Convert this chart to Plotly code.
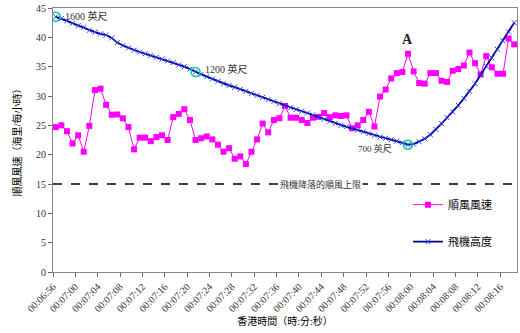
import plotly.graph_objects as go

# ---- data ----
start_sec = 6 * 60 + 56  # 00:06:56
n_points = 83
times = []
for i in range(n_points):
    s = start_sec + i
    times.append("00:%02d:%02d" % (s // 60, s % 60))

tailwind = [24.7, 25.0, 24.0, 21.9, 23.3, 20.5, 24.9, 31.0, 31.25, 28.5,
            26.8, 26.85, 26.2, 24.7, 20.9, 22.9, 22.9, 22.3, 23.0, 23.3,
            22.5, 26.4, 26.95, 27.75, 25.9, 22.5, 22.8, 23.1, 22.6, 21.7,
            20.5, 21.1, 19.3, 19.7, 18.4, 20.5, 22.6, 25.3, 23.8, 25.9,
            26.2, 28.3, 26.3, 26.3, 25.9, 25.4, 26.3, 26.45, 27.1, 26.4,
            26.7, 26.6, 26.7, 24.5, 25.0, 25.9, 27.3, 24.8, 29.9, 31.1,
            33.0, 33.9, 34.1, 37.2, 34.2, 32.2, 32.1, 33.9, 33.9, 32.6,
            32.4, 34.3, 34.6, 35.2, 37.4, 35.6, 33.7, 36.8, 34.9, 33.8,
            33.8, 39.8, 38.8]

altitude = [43.5, 43.2, 42.8, 42.4, 42.0, 41.7, 41.2, 40.9, 40.6, 40.4,
            39.9, 39.1, 38.6, 38.2, 37.8, 37.5, 37.2, 36.9, 36.6, 36.3,
            36.0, 35.7, 35.3, 35.0, 34.6, 34.1, 33.7, 33.3, 32.9, 32.5,
            32.1, 31.8, 31.5, 31.15, 30.8, 30.45, 30.1, 29.75, 29.4, 29.05,
            28.7, 28.35, 28.0, 27.7, 27.4, 27.1, 26.75, 26.4, 26.05, 25.7,
            25.35, 25.0, 24.75, 24.5, 24.2, 23.9, 23.6, 23.3, 23.0, 22.8,
            22.55, 22.3, 22.0, 21.7, 21.8, 22.2, 22.7, 23.4, 24.3, 25.3,
            26.3, 27.3, 28.4, 29.6, 30.8, 32.1, 33.6, 35.1, 36.5, 37.95,
            39.4, 40.9, 42.5]

marked_idx = [0, 25, 63]
marked_text = ["1600 英尺", "1200 英尺", "700 英尺"]
limit_value = 15
limit_text = "飛機降落的順風上限"
peak_idx = 63
peak_text = "A"

tick_step = 4
tick_idx = list(range(0, n_points, tick_step))
tick_labels = [times[i] for i in tick_idx]

series_wind = "順風風速"
series_alt = "飛機高度"
y_title = "順風風速（海里/每小時）"
x_title = "香港時間（時:分:秒）"

FONT = "Liberation Serif, Noto Sans CJK TC, serif"
xs = list(range(n_points))

fig = go.Figure()
fig.add_trace(go.Scatter(
    x=xs, y=tailwind, name=series_wind, mode="lines+markers",
    line=dict(color="#FF00FF", width=1),
    marker=dict(symbol="square", size=6, color="#FF00FF"),
    legendgroup="a"))
fig.add_trace(go.Scatter(
    x=xs, y=altitude, name=series_alt, mode="lines+markers",
    line=dict(color="#000080", width=1.8),
    marker=dict(symbol="x-thin", size=5, line=dict(color="#2040FF", width=1)),
    legendgroup="b"))
fig.add_trace(go.Scatter(
    x=marked_idx, y=[altitude[i] for i in marked_idx], mode="markers",
    marker=dict(symbol="circle-open", size=9, line=dict(color="#3A6AF0", width=1.5)),
    showlegend=False, hoverinfo="skip"))

fig.add_shape(type="line", xref="x", yref="y", x0=-0.5, x1=n_points - 0.5,
              y0=limit_value, y1=limit_value,
              line=dict(color="black", width=1.5, dash="dash"))

fig.add_annotation(x=47.3, y=limit_value, xref="x", yref="y", text=limit_text,
                   showarrow=False, bgcolor="white",
                   font=dict(family=FONT, size=9, color="#333333"))

# point labels
fig.add_annotation(x=marked_idx[0] + 1.3, y=altitude[0] + 0.2, text=marked_text[0],
                   xanchor="left", showarrow=False,
                   font=dict(family=FONT, size=10, color="#333333"))
fig.add_annotation(x=marked_idx[1] + 1.3, y=altitude[25] + 0.5, text=marked_text[1],
                   xanchor="left", showarrow=False,
                   font=dict(family=FONT, size=10, color="#333333"))
fig.add_annotation(x=marked_idx[2] - 2.5, y=altitude[63] - 0.6, text=marked_text[2],
                   xanchor="right", showarrow=False,
                   font=dict(family=FONT, size=9, color="#333333"))
fig.add_annotation(x=peak_idx, y=tailwind[peak_idx] + 2.4, text="<b>%s</b>" % peak_text,
                   showarrow=False, font=dict(family=FONT, size=14, color="#222222"))

fig.update_layout(
    width=520, height=333,
    margin=dict(l=53, r=2, t=6, b=61),
    paper_bgcolor="white", plot_bgcolor="white",
    font=dict(family=FONT, size=10, color="black"),
    showlegend=True,
    legend=dict(x=0.765, y=0.31, xanchor="left", yanchor="top",
                bgcolor="rgba(0,0,0,0)", font=dict(family=FONT, size=11),
                tracegroupgap=18, itemwidth=30, traceorder="grouped"),
    xaxis=dict(range=[-0.5, n_points - 0.5], tickmode="array",
               tickvals=[i - 0.5 for i in tick_idx], ticktext=tick_labels,
               tickangle=-45, ticks="outside", ticklen=4, tickcolor="#666",
               showgrid=False, zeroline=False, showline=True, linecolor="#888",
               linewidth=1, mirror=True,
               tickfont=dict(family=FONT, size=10, color="#333"),
               title=dict(text=x_title, font=dict(family=FONT, size=10), standoff=4)),
    yaxis=dict(range=[0, 45], tickvals=list(range(0, 46, 5)), ticks="outside",
               ticklen=4, tickcolor="#666", showgrid=False, zeroline=False,
               showline=True, linecolor="#888", linewidth=1, mirror=True,
               tickfont=dict(family=FONT, size=10, color="#333"),
               title=dict(text=y_title, font=dict(family=FONT, size=10), standoff=12)),
)

fig.write_html("out.html")
